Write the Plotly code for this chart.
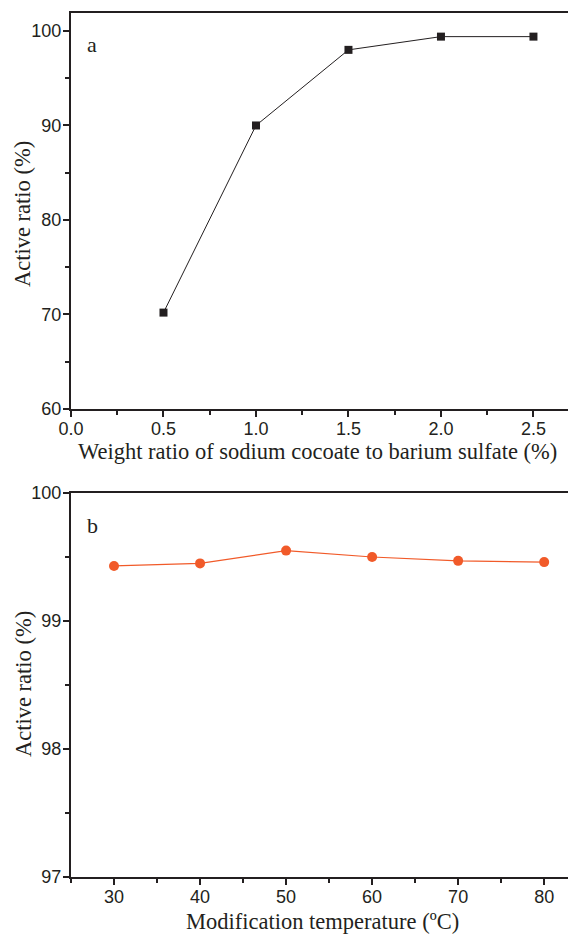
import plotly.graph_objects as go

ratio_x = [0.5, 1.0, 1.5, 2.0, 2.5]
ratio_active = [70.2, 90.0, 98.0, 99.4, 99.4]

temp_x = [30, 40, 50, 60, 70, 80]
temp_active = [99.43, 99.45, 99.55, 99.50, 99.47, 99.46]

# page has an 8px body margin, so the figure occupies 568x926
W, H = 568, 926
OFF = 8


def px(xp):
    return (xp - OFF) / W


def py(yp):
    return 1 - (yp - OFF) / H


left = px(71)
top_dom = [py(409), py(13)]
bot_dom = [py(877), py(493)]

serif = "Liberation Serif"
sans = "Liberation Sans"
ink = "#231f20"

fig = go.Figure()
fig.add_trace(go.Scatter(x=ratio_x, y=ratio_active, mode="lines+markers",
                         line=dict(color=ink, width=1),
                         marker=dict(symbol="square", size=8, color=ink),
                         xaxis="x", yaxis="y", showlegend=False))
fig.add_trace(go.Scatter(x=temp_x, y=temp_active, mode="lines+markers",
                         line=dict(color="#f15a29", width=1.2),
                         marker=dict(symbol="circle", size=10, color="#f15a29"),
                         xaxis="x2", yaxis="y2", showlegend=False))

axis_common = dict(showline=True, linecolor=ink, linewidth=2, mirror=True,
                   ticks="outside", ticklen=6, tickwidth=1.5, tickcolor=ink,
                   showgrid=False, zeroline=False, automargin=False,
                   tickfont=dict(family=sans, size=18, color=ink))
xcommon = dict(axis_common, ticklabelstandoff=-4)
ycommon = dict(axis_common, ticklabelstandoff=-2)

fig.update_layout(
    width=W, height=H,
    margin=dict(l=0, r=0, t=0, b=0, autoexpand=False),
    paper_bgcolor="white", plot_bgcolor="white",
    xaxis=dict(domain=[left, 1], anchor="y", range=[0, 2.73],
               tickvals=[0, 0.5, 1.0, 1.5, 2.0, 2.5],
               ticktext=["0.0", "0.5", "1.0", "1.5", "2.0", "2.5"],
               minor=dict(dtick=0.25, ticks="outside", ticklen=4, tickcolor=ink),
               **xcommon),
    yaxis=dict(domain=top_dom, anchor="x", range=[60, 101.9],
               tickvals=[60, 70, 80, 90, 100],
               minor=dict(dtick=5, ticks="outside", ticklen=4, tickcolor=ink),
               **ycommon),
    xaxis2=dict(domain=[left, 1], anchor="y2", range=[25, 83.7],
                tickvals=[30, 40, 50, 60, 70, 80],
                minor=dict(dtick=5, ticks="outside", ticklen=4, tickcolor=ink),
                **xcommon),
    yaxis2=dict(domain=bot_dom, anchor="x2", range=[97, 100],
                tickvals=[97, 98, 99, 100],
                minor=dict(dtick=0.5, ticks="outside", ticklen=4, tickcolor=ink),
                **ycommon),
)

ann = [
    dict(text="a", x=px(92), y=py(45), font=dict(family=serif, size=22, color=ink)),
    dict(text="b", x=px(92), y=py(525), font=dict(family=serif, size=22, color=ink)),
    dict(text="Weight ratio of sodium cocoate to barium sulfate (%)", x=px(317), y=py(452),
         font=dict(family=serif, size=22.5, color=ink)),
    dict(text="Modification temperature (ºC)", x=px(322), y=py(921),
         font=dict(family=serif, size=22.5, color=ink)),
    dict(text="Active ratio (%)", x=px(23), y=py(214), textangle=-90,
         font=dict(family=serif, size=22.5, color=ink)),
    dict(text="Active ratio (%)", x=px(23), y=py(684), textangle=-90,
         font=dict(family=serif, size=22.5, color=ink)),
]
for a in ann:
    a.update(xref="paper", yref="paper", xanchor="center", yanchor="middle", showarrow=False)
fig.update_layout(annotations=ann)

fig.write_html("out.html")
